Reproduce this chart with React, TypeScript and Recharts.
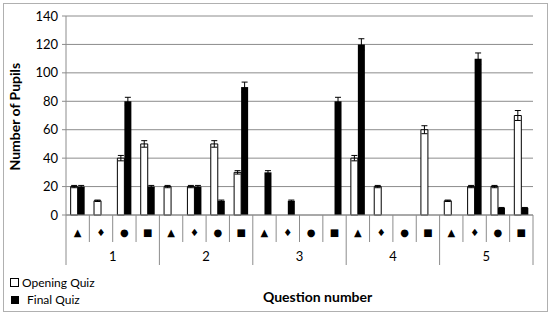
import { BarChart, Bar, XAxis, YAxis, CartesianGrid, ErrorBar, Legend } from 'recharts';

// questions and the four item shapes under each one
const questions = ['1', '2', '3', '4', '5'];
const shapes = ['▲', '♦', '●', '■'];

// values per (question, shape), read left to right
const opening = [20, 10, 40, 50, 20, 20, 50, 30, 0, 0, 0, 0, 40, 20, 0, 60, 10, 20, 20, 70];
const final = [20, 0, 80, 20, 0, 20, 10, 90, 30, 10, 0, 80, 120, 0, 0, 0, 0, 110, 5, 5];
const openingErr = [0.8, 0.5, 1.9, 2.3, 0.8, 0.8, 2.3, 1.2, 0, 0, 0, 0, 1.9, 0.8, 0, 2.8, 0.5, 0.8, 0.8, 3.5];
const finalErr = [0.8, 0, 2.8, 0.8, 0, 0.8, 0.5, 3.5, 1.2, 0.5, 0, 2.8, 4, 0, 0, 0, 0, 4, 0.3, 0.3];
const yTicks = [0, 20, 40, 60, 80, 100, 120, 140];

const data = opening.map((v, i) => ({
  key: `${questions[Math.floor(i / 4)]}-${i % 4}`,
  shape: shapes[i % 4],
  question: questions[Math.floor(i / 4)],
  opening: v,
  final: final[i],
  openingErr: openingErr[i],
  finalErr: finalErr[i],
}));

const W = 550;
const H = 315;
const M = { top: 16, right: 17, bottom: 0, left: 0 };
const Y_W = 66;
const X_H = 100;
const plotBottom = H - M.bottom - X_H;
const band = (W - M.left - M.right - Y_W) / data.length;
const grey = '#8c8c8c';

function CategoryTick(props: any) {
  const { x, payload } = props;
  const i = payload.index;
  const item = data[i];
  const groupStart = i % 4 === 0;
  return (
    <g>
      <text x={x} y={plotBottom + 21} textAnchor="middle" fontSize={10} fill="#000" fontFamily="DejaVu Sans">
        {item.shape}
      </text>
      <line x1={x - band / 2} x2={x - band / 2} y1={plotBottom} y2={plotBottom + (groupStart ? 50 : 27)} stroke={grey} />
      {groupStart && (
        <text x={x + band * 1.5} y={plotBottom + 46} textAnchor="middle" fontSize={13} fill="#000">
          {item.question}
        </text>
      )}
      {i === data.length - 1 && (
        <line x1={x + band / 2} x2={x + band / 2} y1={plotBottom} y2={plotBottom + 50} stroke={grey} />
      )}
    </g>
  );
}

function LegendBox() {
  return (
    <div style={{ fontSize: 12, lineHeight: '17px', color: '#000' }}>
      <div style={{ display: 'flex', alignItems: 'center' }}>
        <span style={{ width: 7, height: 7, border: '1px solid #000', background: '#fff', marginRight: 3, display: 'inline-block' }} />
        Opening Quiz
      </div>
      <div style={{ display: 'flex', alignItems: 'center' }}>
        <span style={{ width: 8, height: 8, background: '#000', marginLeft: 1, marginRight: 8, display: 'inline-block' }} />
        Final Quiz
      </div>
    </div>
  );
}

export default function App() {
  return (
    <div style={{ position: 'absolute', left: 0, top: 0, width: W, height: H, fontFamily: 'Lato, sans-serif', background: '#fff' }}>
      <div style={{ position: 'absolute', left: 3, top: 3, width: 543, height: 307, border: '1px solid #b0b0b0' }} />
      <BarChart width={W} height={H} data={data} margin={M} barCategoryGap="20%" barGap={0}>
        <CartesianGrid vertical={false} stroke={grey} />
        <YAxis
          domain={[0, 140]}
          ticks={yTicks}
          width={Y_W}
          stroke={grey}
          tickSize={4}
          tickMargin={4}
          tick={{ fill: '#000', fontSize: 13 }}
          label={{ value: 'Number of  Pupils', angle: -90, position: 'insideLeft', dx: 10, dy: 55, style: { fontWeight: 'bold', fontSize: 14, fill: '#000' } }}
        />
        <XAxis
          dataKey="key"
          height={X_H}
          interval={0}
          stroke={grey}
          tickLine={false}
          tick={<CategoryTick />}
        />
        <Legend
          layout="horizontal"
          verticalAlign="middle"
          wrapperStyle={{ left: 10, top: 274, width: 'auto' }}
          content={() => <LegendBox />}
        />
        <Bar dataKey="opening" name="Opening Quiz" fill="#fff" stroke="#000" strokeWidth={1} isAnimationActive={false}>
          <ErrorBar dataKey="openingErr" width={3} stroke="#000" strokeWidth={1} />
        </Bar>
        <Bar dataKey="final" name="Final Quiz" fill="#000" isAnimationActive={false}>
          <ErrorBar dataKey="finalErr" width={3} stroke="#000" strokeWidth={1} />
        </Bar>
      </BarChart>
      <div style={{ position: 'absolute', left: 263, top: 288, fontWeight: 'bold', fontSize: 14, color: '#000' }}>
        Question number
      </div>
    </div>
  );
}
